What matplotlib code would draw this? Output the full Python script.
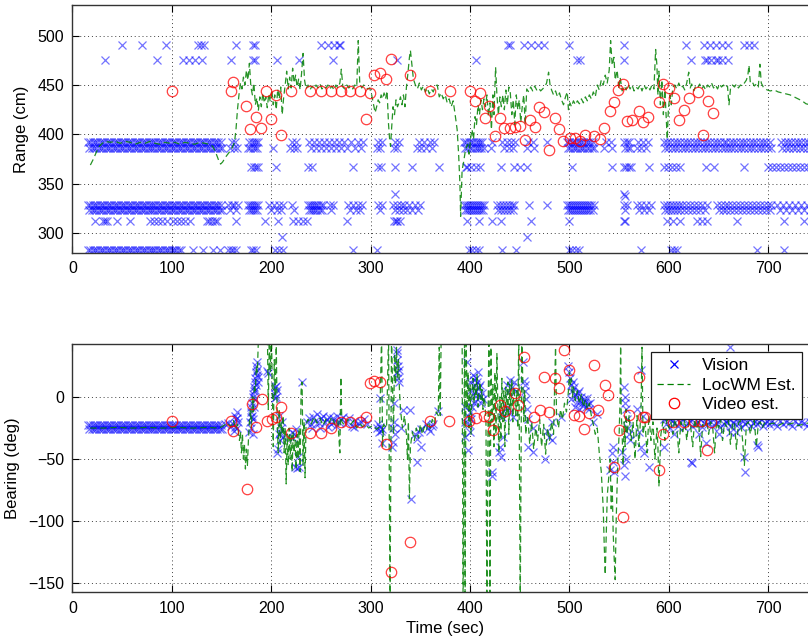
import matplotlib.pyplot as plt
import numpy as np

plt.rcParams['font.family'] = ['Liberation Sans', 'DejaVu Sans']
fz = 11.5

# ---- range plot: vision detections, grouped by the range level they sit on
band_t1 = [16, 18, 20.5, 23, 25, 27.5, 30, 32, 34.5, 37, 39, 41.5, 44, 46, 48.5, 51, 53, 55.5, 58, 60,
           62.5, 65, 67, 69.5, 72, 74, 76.5, 79, 81, 83.5, 86, 88, 90.5, 93, 95, 97.5, 100, 102, 104.5,
           107, 109, 111.5, 114, 116, 118.5, 121, 123, 125.5, 128, 130, 132.5, 135, 137, 139.5, 142,
           144, 146.5, 149]
band_t2 = [17, 19.5, 22, 24, 26.5, 29, 31, 33.5, 36, 38, 40.5, 43, 45, 47.5, 50, 52, 54.5, 57, 59, 61.5,
           64, 66, 68.5, 71, 73, 75.5, 78, 80, 82.5, 85, 87, 89.5, 92, 94, 96.5, 99, 101, 103.5, 106,
           108, 110.5, 113, 115, 117.5, 120, 122, 124.5, 127, 129, 131.5, 134, 136, 138.5, 141, 143,
           145.5, 148, 150]

t_r490 = [49.5, 70, 94, 126, 129, 132, 164.5, 182, 183.5, 250, 257, 263, 268, 269.5, 438, 440, 454,
          461, 468, 474, 499.5, 555, 617, 635, 641, 647, 653, 660, 676, 681, 686]
t_r475 = [33, 84.7, 111, 117, 123, 130, 159, 182, 183.5, 205.4, 228, 262, 327, 405.6, 508, 510.5,
          555, 622, 636, 638, 642, 647, 649, 653, 660]
t_r392 = [160, 164, 178, 181, 183, 185, 187, 221, 225, 238, 243, 248, 253, 258, 263, 268, 273, 280,
          287, 292, 307, 311, 324, 329, 349, 354, 360, 364, 394, 396, 398.5, 401, 403, 405.5, 408,
          410, 412.5, 422, 432, 437, 441, 445, 458, 463, 477, 498, 500, 502.5, 505, 507, 509.5, 512,
          514, 516.5, 519, 521, 524, 537, 542, 555, 557.5, 560, 569, 574, 579, 595, 598, 601.5, 605,
          608, 611.5, 615, 618, 621.5, 625, 628, 631.5, 635, 638, 641.5, 645, 648, 651.5, 655, 658,
          661.5, 665, 668, 671.5, 675, 678, 681.5, 685, 688, 691.5, 695, 698, 702, 713, 716.5, 720,
          723, 726.5, 730, 733, 736.5, 740, 743, 747]
t_r386 = [158, 163, 166, 177, 179, 182, 184, 186, 202, 219, 223, 226, 240, 245, 250, 255, 260, 265,
          270, 276, 284, 290, 306, 309, 323, 327, 347, 351, 356, 362, 395, 397, 399.5, 402, 404.5,
          407, 409, 411.5, 414, 421, 434, 439, 443, 457, 464, 499, 501, 503.5, 506, 508, 510.5, 513,
          515, 517.5, 520, 523, 525, 535, 543, 556, 558.5, 561, 568, 572, 577, 596, 599.5, 603, 606,
          609.5, 613, 616, 619.5, 623, 626, 629.5, 633, 636, 639.5, 643, 646, 649.5, 653, 656, 659.5,
          663, 666, 669.5, 673, 676, 679.5, 683, 686, 689.5, 693, 696, 700, 703, 714, 717.5, 721,
          724.5, 728, 731.5, 735, 738.5, 742, 745.5, 749]
t_r367 = [180, 183, 185, 187, 205, 237, 241, 282, 307, 310, 324.5, 341.5, 368.7, 396, 397, 401, 406,
          410, 431, 444, 450, 457, 502.5, 542.7, 555, 557, 560, 562, 580, 595, 599, 603, 607, 611,
          637, 645, 675.6, 700, 704, 708, 712, 716, 720, 724, 728, 732, 736, 740, 744, 748]
t_r329 = [156, 160, 163, 167, 177, 179, 181, 183, 185, 187, 198, 203, 208, 212, 221, 237, 239, 241,
          243, 245, 247, 250, 252, 259, 262, 277, 282, 287, 291, 307, 311, 322, 327, 331, 334, 339,
          345, 350, 394, 396, 398, 400, 402, 404, 406, 408, 410, 412, 414, 427, 430, 433, 436, 439,
          442, 444, 459, 477, 498, 500, 502, 504, 506, 508, 510, 512, 514, 516, 518, 520, 522, 525,
          555, 558, 568, 572, 577, 582, 595, 598, 601, 604, 607, 610, 613, 617, 621, 625, 629, 633,
          638, 648, 652, 656, 660, 664, 668, 672, 676, 680, 684, 688, 692, 696, 700, 703, 709, 715,
          721, 727, 733, 739, 745]
t_r323 = [158, 165, 178, 180, 182, 184, 186, 200, 206, 210, 223, 238, 240, 242, 244, 246, 249, 251,
          260, 279, 285, 289, 309, 324, 329, 333, 337, 342, 348, 395, 397, 399, 401, 403, 405, 407,
          409, 411, 413, 428, 431, 434, 437, 440, 443, 499, 501, 503, 505, 507, 509, 511, 513, 515,
          517, 519, 521, 524, 556, 570, 575, 580, 596, 599, 602, 605, 608, 611, 615, 619, 623, 627,
          631, 636, 650, 654, 658, 662, 666, 670, 674, 678, 682, 686, 690, 694, 698, 702, 712, 718,
          724, 730, 736, 742, 748]
t_r312 = [22.6, 31, 33, 35, 44.6, 58, 78, 82, 86, 90, 95, 101, 105, 109, 113, 118, 135, 137, 140, 143,
          145, 165, 193.7, 207, 222, 227, 232, 236, 276, 323, 325, 327, 330, 397, 409, 422, 431, 461,
          499.5, 555, 556, 598, 604, 611, 628, 633, 638, 668.5, 716, 736]
t_r283 = [16, 18, 20.5, 23, 25, 27.5, 30, 32, 34.5, 37, 39, 41.5, 44, 46, 48.5, 51, 53, 55.5, 58, 60,
          62.5, 65, 67, 69.5, 72, 74, 76.5, 79, 81, 83.5, 86, 88, 90.5, 93, 95, 97.5, 100, 102, 104.5,
          107, 109, 121, 131, 141, 148, 156, 159, 162, 165, 180, 182, 185, 204, 208, 212, 282, 306,
          399, 402, 406, 409, 432, 446, 500, 503, 507, 510, 571.6, 602, 605, 608, 689, 716]
odd_t = [210.5, 324.5, 457, 555, 556]
odd_r = [296, 340, 296, 340, 338]

# ---- range plot: LocWM estimate (time, range)
est_rng = [
    (18, 369), (21, 375), (24, 382), (27, 388), (30, 391), (33, 393), (38, 392), (43, 393), (48, 391),
    (53, 393), (58, 392), (63, 390), (68, 392), (73, 391), (78, 393), (83, 391), (88, 390), (93, 392),
    (98, 391), (103, 392), (108, 390), (113, 392), (118, 391), (123, 390), (128, 392), (133, 391),
    (138, 390), (141, 388), (144, 382), (147, 374), (149, 370), (151, 372), (154, 377), (157, 381),
    (160, 385), (163, 392), (164.5, 405), (166, 425), (167.5, 440), (169, 452), (170.5, 446),
    (172, 458), (173.5, 450), (175, 465), (176.5, 455), (178, 472), (179.5, 448), (181, 440),
    (182.5, 452), (184, 430), (185.5, 437), (187, 424), (188.5, 438), (190, 428), (191.5, 442),
    (193, 432), (194.5, 438), (196, 427), (197.5, 441), (199, 433), (200.5, 445), (202, 430),
    (203.5, 440), (205, 425), (206.5, 446), (208, 436), (209.5, 448), (211, 420), (212.5, 438),
    (214, 450), (215.5, 464), (217, 446), (218.5, 458), (220, 447), (221.5, 467), (223, 452),
    (224.5, 460), (226, 448), (227.5, 456), (229, 445), (230.5, 462), (232, 482), (233.5, 455),
    (235, 446), (237, 450), (239, 445), (241, 449), (243, 446), (245, 450), (247, 447), (249, 451),
    (251, 446), (253, 449), (255, 447), (257, 450), (259, 446), (261, 449), (263, 445), (265, 450),
    (267, 447), (269, 452), (270.5, 466), (272, 448), (274, 446), (276, 450), (278, 447), (280, 449),
    (282, 446), (284, 450), (286, 448), (287.5, 495), (289, 452), (291, 447), (293, 450), (295, 448),
    (297, 446), (299, 447), (301, 440), (303, 430), (304.5, 422), (306, 428), (307.5, 435), (309, 432),
    (310.5, 440), (312, 436), (313.5, 442), (315, 436), (316.5, 444), (318, 410), (319, 396),
    (320, 388), (321, 405), (322.5, 428), (324, 420), (325.5, 435), (327, 428), (328.5, 432),
    (330, 438), (331.5, 430), (333, 440), (334.5, 428), (336, 448), (337.5, 462), (339, 478),
    (340, 485), (341.5, 470), (343, 456), (345, 450), (347, 446), (349, 452), (351, 445), (353, 449),
    (355, 443), (357, 447), (359, 441), (361, 446), (363, 443), (365, 449), (367, 450), (369, 438),
    (371, 442), (373, 436), (375, 440), (377, 432), (379, 436), (381, 428), (383, 434), (385, 420),
    (387, 405), (388.5, 380), (389.8, 350), (390.5, 317), (391.2, 340), (392, 364), (393.5, 372),
    (395.5, 385), (397.5, 390), (399, 380), (400.5, 396), (402, 405), (403.5, 395), (405, 418),
    (406.5, 410), (408, 430), (409.5, 420), (411, 435), (412.5, 425), (414, 436), (415.5, 428),
    (417, 440), (418.5, 418), (420, 432), (421.5, 405), (423, 440), (424, 420), (425.7, 468),
    (427, 440), (428.5, 420), (430, 438), (431.5, 428), (433, 440), (434.5, 425), (436, 445),
    (437.5, 430), (439, 448), (440.5, 442), (442, 420), (443.5, 435), (445, 410), (446.5, 440),
    (448, 425), (449.5, 435), (451, 412), (452.5, 428), (454, 440), (455.5, 410), (457, 446),
    (459, 443), (461, 448), (463, 444), (465, 449), (467, 445), (469, 447), (471, 444), (473, 446),
    (475, 448), (477, 452), (479, 463), (480.5, 450), (482, 445), (484, 440), (486, 444), (488, 438),
    (490, 442), (492, 435), (494, 430), (496, 438), (497.8, 443), (499, 425), (500.5, 432), (502, 428),
    (504, 434), (506, 430), (508, 434), (510, 431), (512, 436), (514, 432), (516, 438), (518, 434),
    (520, 440), (522, 436), (524, 443), (526, 438), (528, 450), (530, 445), (532, 455), (534, 450),
    (536, 460), (538, 452), (540, 465), (541.4, 495), (543, 470), (544.8, 478), (546, 455), (548, 465),
    (549.8, 446), (551, 458), (553, 444), (555, 449), (557, 445), (559, 451), (561, 446), (563, 450),
    (565, 444), (567, 448), (569, 446), (571, 450), (573, 444), (575, 450), (577, 446), (579, 449),
    (581, 445), (583, 450), (585, 446), (586.7, 486), (588, 470), (589, 440), (590, 464), (591.5, 430),
    (593, 455), (594.5, 420), (596, 445), (597.5, 415), (598.4, 395), (599.5, 425), (601, 440),
    (602.5, 430), (604, 448), (606, 450), (608, 446), (610, 452), (612, 447), (614, 449), (616, 445),
    (618, 452), (620, 463), (621.5, 447), (623, 451), (625, 444), (627, 449), (629, 447), (631, 451),
    (633, 446), (635, 449), (637, 445), (639, 450), (641, 448), (643, 452), (645, 447), (647, 450),
    (649, 446), (651, 451), (653, 448), (655, 450), (657, 447), (659, 449), (660.5, 430), (662, 446),
    (664, 450), (666, 448), (668, 451), (670, 447), (672, 450), (674, 449), (676, 452), (678, 455),
    (679.5, 460), (680.6, 470), (682, 452), (684, 453), (686, 449), (688, 451), (690, 448),
    (691.6, 471), (693, 452), (695, 448), (697, 446), (699, 445), (702, 444), (706, 445), (710, 443),
    (714, 442), (718, 441), (722, 440), (726, 438), (730, 436), (734, 434), (738, 431), (742, 430),
    (746, 428), (750, 426)]

# ---- range plot: video estimate (time, range)
vid_rng = [
    (99.8, 444), (159, 444), (161.5, 453), (175, 429), (184.6, 418), (179, 405), (189.6, 407),
    (195, 444), (200, 416), (204.7, 440), (209.8, 399), (219.8, 444), (239, 444), (250, 444),
    (260, 444), (269.8, 444), (279.5, 444), (289, 444), (295.3, 416), (299.3, 442), (303.6, 460),
    (309.4, 462), (315.4, 456), (320, 476), (339.5, 460), (359.7, 444), (379.8, 444), (399.9, 444),
    (404.6, 434), (410, 442), (419.3, 429), (415, 417), (429.8, 417), (424.7, 398), (434, 406),
    (440, 407), (445, 408), (450, 409), (460, 415), (465, 408), (469.5, 428), (474.5, 423),
    (485, 417), (489.5, 405), (493.8, 393), (479.4, 384), (455, 394.5), (501, 396), (506, 396),
    (511, 393), (516, 399), (524.6, 398), (530.7, 395), (534.7, 406), (540.4, 424), (544.8, 433),
    (549, 445), (553.8, 451), (558, 414), (563, 415), (570, 424), (574, 413), (579, 418),
    (590, 433), (594, 451), (600, 447), (605, 437), (610, 415), (615, 425), (620, 437),
    (629.5, 443), (634.6, 399), (639.6, 434), (644.7, 422)]

# ---- bearing plot: vision detections (time, bearing)
brg_band1 = -22.5
brg_band2 = -25.5
vis_brg = [
    (153.7, -22), (156, -21), (159, -23), (162, -22), (163, -27), (164, -15), (165, -18), (165.5, -12),
    (166, -25), (167, -20), (164, -24), (166, -17), (178, -28), (179, -20), (179.5, -12), (180, -25),
    (180, -8), (181, -5), (181, -15), (181.5, 2), (182, 0), (182, -18), (182.5, 8), (183, 5), (183, -8),
    (183.5, 12), (184, 15), (184, -2), (184.5, 20), (185, 25), (185, 10), (185.5, 28), (186, 18),
    (186, 22), (186.5, 12), (187, 16), (182, -30), (180, -16), (184, 6), (195.5, 21), (196.5, 19),
    (203.5, 8), (204, 2), (204.5, 9), (205, 0), (205.5, 6), (204, -1), (206, -45), (207, -42),
    (208, -30), (208, -15), (209, -35), (210, -25), (211, -20), (212, -32), (209, -28), (221, -28),
    (222, -33), (223, -30), (225, -26), (224, -56), (226, -57), (228, -56), (227, -48), (230.6, 12),
    (236, -20), (238, -17), (240, -22), (242, -16), (244, -19), (246, -14), (248, -21), (250, -17),
    (252, -15), (254, -20), (256, -18), (258, -16), (260, -22), (262, -17), (264, -19), (266, -15),
    (268, -20), (270, -18), (272, -16), (275, -21), (278, -17), (281, -23), (284, -19), (287, -21),
    (290, -20), (293, -18), (296, -22), (241, -25), (249, -25), (257, -24), (265, -23), (283, -24),
    (306, -25), (307, -22), (308, -28), (309, -24), (310, -27), (311, -26), (309.4, -1), (311, -37),
    (321, -40), (322, -36), (323, -5), (323, -20), (324, -30), (322, -25), (326, 38), (326, 35),
    (327, 30), (327, 20), (328, 25), (328, 15), (329, 12), (329, 22), (331, -25), (332.8, -10.5),
    (339.5, -10.5), (341, -82), (345, -30), (346.3, -52), (347, -34), (349, -28), (351, -26),
    (351, -40), (356, -22), (358, -25), (360, -27), (362, -23), (363, -22), (368, -11), (395, -8),
    (395, -20), (395, -32), (396.5, 28), (398, -43), (398, -15), (399, -22), (400, -28), (401, -18),
    (400, -12), (400, 12), (401, 6), (402, -8), (403, 18), (403, 2), (404, 14), (404, -5), (405, 10),
    (405, -3), (406, 5), (406, 15), (407, 12), (408, 2), (408, 20), (409, 8), (410, 0), (410, 10),
    (411, -5), (412, 3), (413, -2), (421.7, -60), (421.7, -64), (429, -44), (430, -40), (431, -48),
    (431.8, -13), (432, -16), (433.4, -32), (437, 10), (438, 4), (440, 14), (442, 8), (444, 12),
    (446, 5), (437, -8), (440, -12), (443, -16), (453.6, 28), (454, 13), (455, 5), (455, 10),
    (456, -2), (457, -10), (458, -18), (458.5, -40), (463.6, -44), (463.6, -25), (475.3, -50),
    (477, -27), (479, -32), (482, -35), (482, -20), (492, -16), (499, 25), (500, 20), (501, 15),
    (502, 10), (503, 5), (504, 12), (505, 8), (506, 2), (507, 0), (508, -4), (509, 3), (510, 5),
    (511, -3), (512, 0), (513, -5), (514, -7), (515, -2), (516, -4), (517, -8), (518, -1), (519, -6),
    (520, -10), (521, -5), (502, -2), (506, -8), (510, -10), (524, -20), (527.4, -14), (540.8, -59),
    (543, -45), (544, -40), (544, -52), (545, -60), (553, -44), (555, -55), (556, -64), (557, -50),
    (555, 8), (556, 0), (557, -10), (558, -18), (559, -25), (560, -30), (561, -35), (556, -5),
    (568, -10), (570, -28), (571.6, 22), (572, -40), (574, -15), (575, -45), (580, -56),
    (595, -18), (597, -22), (599, -16), (601, -25), (603, -19), (605, -21), (607, -17), (609, -23),
    (611, -20), (613, -18), (615, -24), (617, -16), (619, -21), (621, -19), (623, -23), (625, -17),
    (627, -22), (629, -20), (631, -18), (633, -24), (635, -21), (637, -17), (639, -22), (641, -19),
    (643, -23), (645, -18), (647, -21), (649, -20), (651, -24), (653, -17), (655, -22), (657, -19),
    (659, -21), (661, -18), (663, -23), (665, -20), (667, -22), (669, -18), (671, -21), (673, -24),
    (675, -19), (677, -22), (679, -20), (681, -17), (683, -23), (685, -21), (687, -19), (689, -22),
    (691, -20), (693, -18), (695, -23), (697, -21), (699, -19), (701, -22), (703, -20), (706, -21),
    (709, -23), (712, -19), (715, -22), (718, -20), (721, -21), (724, -23), (727, -19), (730, -22),
    (733, -20), (736, -21), (739, -23), (742, -20), (745, -22), (748, -21), (595, -40), (622, -52),
    (623, -53), (637, -37), (662, 40), (662, -28), (668, -28), (675.6, -48), (677, -60), (689, -39),
    (690, -40), (605, -30), (610, -12), (630, -30), (650, -30), (655, -12), (645, -8)]

# ---- bearing plot: LocWM estimate (time, bearing); values past the limits run off the axes
est_brg = [
    (18, -25), (30, -25), (45, -24.5), (60, -25), (75, -24.5), (90, -25), (105, -24.5), (120, -25),
    (135, -24.5), (148, -25), (152, -23), (156, -21), (159, -24), (162, -19), (164, -26), (166, -22),
    (168, -35), (169, -28), (170, -45), (171, -30), (172, -50), (173, -38), (174, -58), (175, -42),
    (176, -55), (177, -35), (178, -20), (179, -10), (180, -25), (181, 0), (182, -12), (183, 10),
    (184, 5), (185, 25), (186, 20), (187, 45), (188, 60), (196, 60), (197, -10), (198, 45), (199, 20),
    (200, 60), (201, 10), (202, -40), (203, 30), (204, 0), (205, 45), (206, -20), (207, -45),
    (208, -10), (209, -38), (210, -20), (211, -30), (212, -15), (213, -45), (214, -25), (215, -70),
    (216, -30), (217, -55), (218, -25), (219, -50), (220, -30), (221, -60), (222, -28), (223, -45),
    (224, -35), (225, -58), (226, -30), (227, -50), (228, -25), (229, -60), (230, 5), (231, 12),
    (232, -55), (233, -20), (234, -65), (235, -22), (237, -18), (240, -22), (243, -16), (246, -21),
    (249, -17), (252, -23), (255, -18), (258, -21), (261, -16), (264, -22), (267, -19), (269, -45),
    (270, 16), (271, -20), (274, -23), (277, -18), (280, -22), (283, -19), (286, -25), (289, -21),
    (292, -24), (295, -22), (298, -25), (302, -23), (306, -26), (309, -24), (311, 50), (312, -40),
    (313, -22), (316, -25), (318, 50), (319.5, -170), (321, 50), (323, -30), (324, 35), (325, 10),
    (326, 40), (327, 15), (328, 30), (329, 5), (330, -10), (332, -25), (334, -15), (336, -30),
    (337, -50), (338, -20), (339, -82), (340, -40), (342, -28), (344, -35), (346, -25), (348, -33),
    (350, -22), (352, -30), (354, -24), (356, -27), (358, -20), (360, -25), (362, -18), (364, -22),
    (366, -12), (368, -15), (369, 40), (370, -15), (371, 55), (392, 55), (393, -170), (394.5, 55),
    (395, -170), (396, 55), (397, -10), (398, 20), (399, -25), (400, 10), (401, -30), (402, 5),
    (403, 15), (404, -5), (405, 10), (406, 0), (407, 18), (408, -8), (409, 5), (410, 12), (411, -2),
    (412, 6), (413, -10), (414, 0), (415, -5), (416, -20), (417, -170), (418, -30), (419, 55),
    (420, -170), (421, 40), (422, -20), (423, 10), (424, -40), (425, 20), (426, -30), (427, 35),
    (428, -10), (429, -45), (430, 0), (431, -35), (432, 15), (433, -20), (434, 5), (435, -40),
    (436, 8), (437, -15), (438, 12), (439, -30), (440, 10), (441, -10), (442, 14), (443, -20),
    (444, 8), (445, 0), (446, -15), (447, 5), (448, -25), (449, 50), (450.5, -170), (452, 50),
    (453, 15), (454, -20), (455, 5), (456, -30), (458, -15), (460, -38), (462, -20), (464, -42),
    (466, -25), (468, -35), (470, -18), (472, -40), (474, -22), (476, -46), (478, -25), (480, -35),
    (482, -20), (484, -30), (486, 40), (487, -15), (489, -25), (491, -10), (493, -18), (495, -5),
    (497, -12), (499, 5), (500, 20), (501, 10), (502, 15), (503, 0), (504, 8), (506, -3), (508, 5),
    (510, -5), (512, 2), (514, -8), (516, -2), (518, -10), (520, -5), (522, -15), (524, -22),
    (526, -30), (528, -25), (530, -45), (532, -60), (534, -90), (535, -120), (536, -143), (537, -110),
    (538, -80), (540, -60), (541, -50), (542, -90), (543, -70), (544, -110), (545, -130), (546, -147),
    (547, -100), (548, -70), (549, -45), (550, -30), (551, 0), (551.5, 45), (552, -10), (553, -30),
    (554, -55), (555, -20), (556, -40), (557, -10), (558, -30), (560, -15), (562, -35), (564, -20),
    (566, -50), (568, -15), (570, -40), (572, -10), (573, 40), (574, -30), (576, -20), (578, -45),
    (580, -15), (582, -35), (584, -20), (586, -50), (588, -25), (589, -40), (590, -72), (592, -30),
    (594, -20), (596, -35), (598, -18), (600, -25), (602, -20), (604, -30), (606, -18), (608, -25),
    (610, -45), (612, -20), (614, -28), (616, -18), (618, -35), (620, -20), (622, -24), (624, -40),
    (626, -18), (628, -26), (630, -20), (632, -48), (634, -22), (636, -25), (638, -18), (640, -30),
    (642, -20), (644, -23), (646, -45), (648, -20), (650, -25), (652, -18), (654, -35), (656, -21),
    (658, -24), (660, -19), (662, -38), (664, -22), (666, -20), (668, -42), (670, -21), (672, -19),
    (674, -33), (676, -55), (678, -22), (680, -20), (682, -30), (684, -21), (686, -19), (688, -40),
    (690, -22), (692, -20), (694, -25), (696, -21), (700, -22), (705, -21), (710, -23), (715, -21),
    (720, -22), (725, -21), (730, -23), (735, -22), (740, -21), (745, -22), (750, -22)]

# ---- bearing plot: video estimate (time, bearing)
vid_brg = [
    (100.4, -19), (159, -19), (161.8, -27), (175.2, -74), (180.3, -5.6), (184.6, -24), (190.3, -1.6),
    (195.3, -19), (200.4, -18), (204.7, -16), (209.8, -7.8), (219.8, -29), (239, -29), (250, -29),
    (260, -25), (269.8, -20), (279.5, -20), (289, -20), (295.3, -16), (299.3, 11.5), (303.6, 13),
    (309.4, 12), (315.4, -38), (320, -141), (339.5, -117), (359.7, -19), (379.3, -19), (399.2, -19),
    (406, -17), (414, -15), (419, -16), (423.3, -26.5), (430, -6.4), (435, -11), (445, 3),
    (448.5, -6.4), (454.2, 32), (464.6, -16), (470.3, -10.5), (474.3, 16), (479.7, -12), (485.4, 15),
    (489.7, 7), (494.8, 38), (499.8, 22), (504.5, -14.5), (509.8, -15), (514.8, -26), (519.9, -12.6),
    (524.7, 26), (528.9, -10.5), (535.7, 9.7), (539, 1.6), (544.8, -56), (549.8, -26.5), (554, -97),
    (560, -14.5), (570, 16), (574, -16), (576, -16), (590, -58.7), (594.4, -30), (604.5, -20),
    (615, -20), (625, -19), (632, -19), (638.6, -43), (642, -20)]

range_ticks = [300, 350, 400, 450, 500]
bearing_ticks = [-150, -100, -50, 0]
time_ticks = [0, 100, 200, 300, 400, 500, 600, 700]

blue = (0, 0, 1)
green = (0, 0.5, 0)
red = (1, 0, 0)


def style_axes(ax, yticks):
    ax.set_xlim(0, 750)
    ax.set_xticks(time_ticks)
    ax.set_yticks(yticks)
    ax.grid(True, color='0.25', linestyle=(0, (1, 3)), linewidth=0.7)
    ax.tick_params(direction='in', top=True, right=True, length=5, labelsize=fz, pad=6)
    for s in ax.spines.values():
        s.set_color('0.2')
        s.set_linewidth(1.0)


fig = plt.figure(figsize=(8.08, 6.39), dpi=100)
ax1 = fig.add_axes([0.0897, 0.6041, 0.9226, 0.3881])
ax2 = fig.add_axes([0.0897, 0.0731, 0.9226, 0.3881])

# range
lvl_t = [t_r490, t_r475, band_t1 + t_r392, band_t2 + t_r386, t_r367, band_t1 + t_r329,
         band_t2 + t_r323, t_r312, t_r283, odd_t]
lvl_r = [490, 475, 392, 386, 367, 329, 323, 312, 283, None]
for ts, r in zip(lvl_t, lvl_r):
    rs = odd_r if r is None else [r] * len(ts)
    ax1.plot(ts, rs, 'x', color=blue, alpha=0.55, markersize=6, markeredgewidth=0.9)
er = np.array(est_rng).T
ax1.plot(er[0], er[1], '--', color=green, alpha=0.85, linewidth=0.9, dashes=(5, 3))
vr = np.array(vid_rng).T
ax1.plot(vr[0], vr[1], 'o', color=red, mfc='none', alpha=0.75, markersize=7.5, markeredgewidth=0.9)
ax1.set_ylim(280, 531)
ax1.set_ylabel('Range (cm)', fontsize=12, labelpad=6)
style_axes(ax1, range_ticks)

# bearing
ax2.plot(band_t1 + band_t2, [brg_band1] * len(band_t1) + [brg_band2] * len(band_t2), 'x',
         color=blue, alpha=0.55, markersize=6, markeredgewidth=0.9)
vb = np.array(vis_brg).T
ax2.plot(vb[0], vb[1], 'x', color=blue, alpha=0.55, markersize=6, markeredgewidth=0.9,
         label='Vision')
eb = np.array(est_brg).T
ax2.plot(eb[0], eb[1], '--', color=green, alpha=0.85, linewidth=0.9, dashes=(5, 3),
         label='LocWM Est.')
vv = np.array(vid_brg).T
ax2.plot(vv[0], vv[1], 'o', color=red, mfc='none', alpha=0.75, markersize=7.5,
         markeredgewidth=0.9, label='Video est.')
ax2.set_ylim(-157.2, 42.4)
ax2.set_ylabel('Bearing (deg)', fontsize=12, labelpad=6)
ax2.set_xlabel('Time (sec)', fontsize=12, labelpad=4)
style_axes(ax2, bearing_ticks)

leg = ax2.legend(loc='upper left', bbox_to_anchor=(0.776, 0.968), borderaxespad=0,
                 fontsize=12.5, fancybox=False, framealpha=1, edgecolor='0.1',
                 handlelength=1.9, handletextpad=0.7, labelspacing=0.25, borderpad=0.35)
leg.get_frame().set_linewidth(0.9)
for h in leg.legend_handles:
    h.set_alpha(1)

fig.savefig('out.png', dpi=100)
